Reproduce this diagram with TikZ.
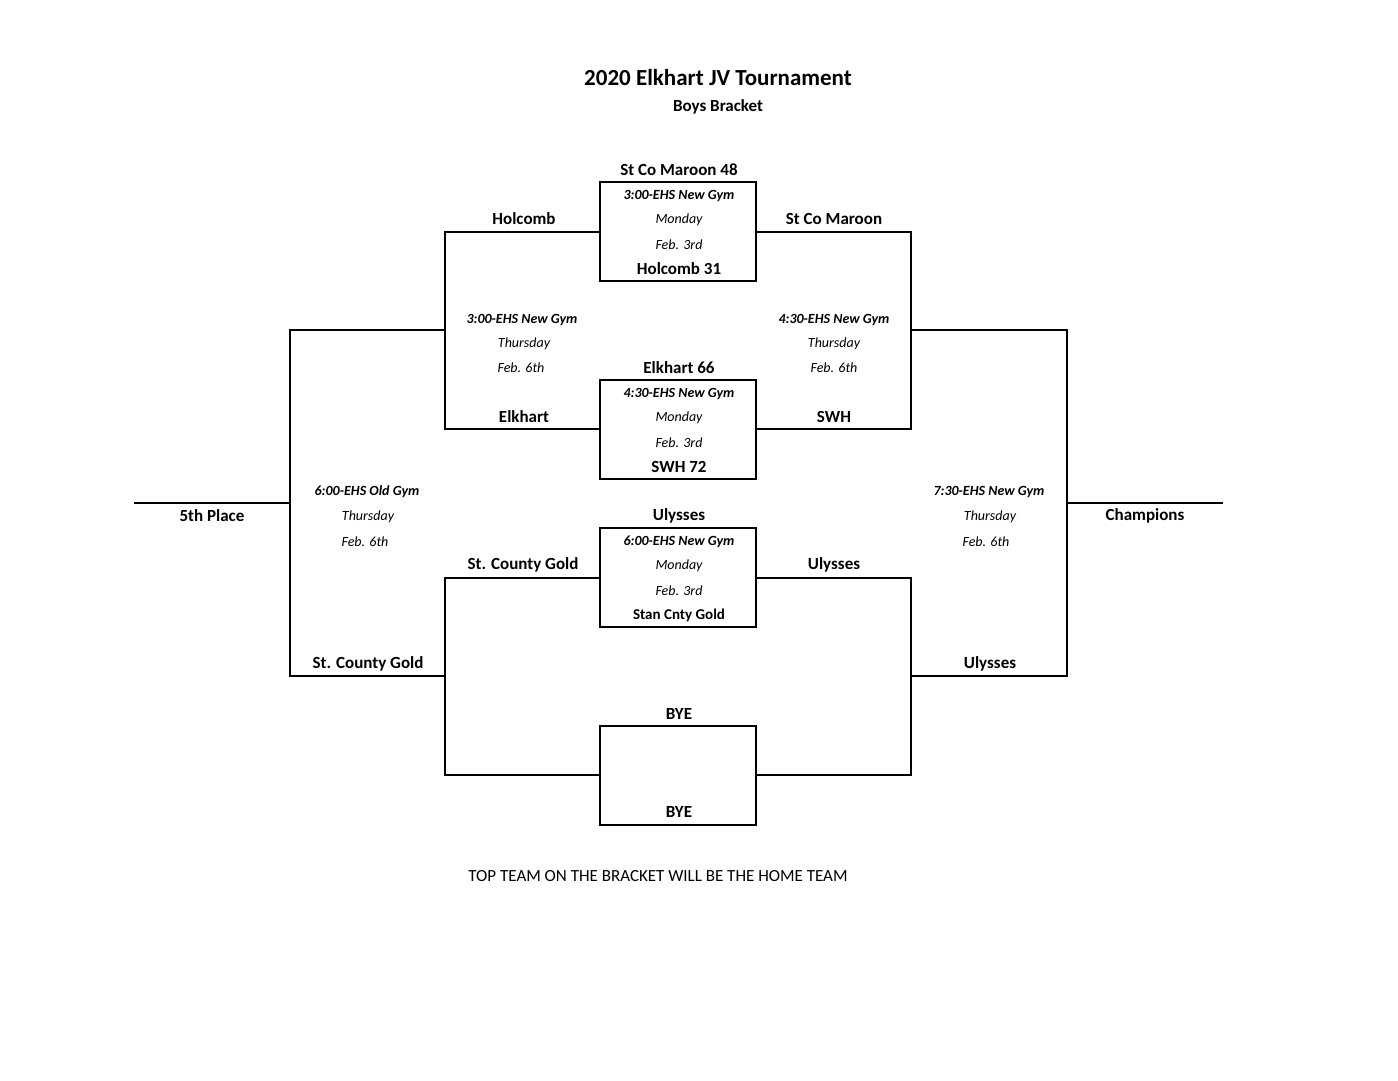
\documentclass[tikz,border=0pt]{standalone}
\usepackage{fontspec}
\setmainfont{Carlito}
\usetikzlibrary{positioning}
\tikzset{
  team/.style={font=\fontsize{17}{20}\selectfont\bfseries, inner sep=0pt},
  sched/.style={font=\fontsize{14}{16}\selectfont\itshape, inner sep=0pt},
  schedb/.style={font=\fontsize{14}{16}\selectfont\bfseries\itshape, inner sep=0pt},
  line/.style={line width=1.3pt},
}
\begin{document}
\begin{tikzpicture}[x=1pt,y=-1pt]
    \useasboundingbox (0,0) rectangle (1398,1080);
    % Title
    \node[font=\fontsize{23}{26}\selectfont\bfseries] (title) at (718,78) {2020 Elkhart JV Tournament};
    \node[font=\fontsize{17}{20}\selectfont\bfseries] (sub) at (718,107) {Boys Bracket};

    % Game boxes
    \foreach \y/\n in {182/g1,380/g2,528/g3,726/g4}
        \draw[line] (600,\y) rectangle (756,\y+99);

    % Round 1 brackets
    \foreach \a/\b in {232/429,578/775} {
        \draw[line] (600,\a) -- (445,\a) -- (445,\b) -- (600,\b);
        \draw[line] (756,\a) -- (911,\a) -- (911,\b) -- (756,\b);
    }
    % Round 2 brackets
    \draw[line] (445,330) -- (290,330) -- (290,676) -- (445,676);
    \draw[line] (911,330) -- (1067,330) -- (1067,676) -- (911,676);
    \draw[line] (290,503) -- (134,503);
    \draw[line] (1067,503) -- (1223,503);

    % Game 1
    \node[team] (g1top) at (679,170) {St Co Maroon 48};
    \node[schedb] (g1t) at (679,196) {3:00-EHS New Gym};
    \node[sched] (g1d) at (679,220) {Monday};
    \node[sched] (g1f) at (679,245) {Feb. 3rd};
    \node[team] (g1bot) at (679,269) {Holcomb 31};

    % Game 2
    \node[team] (g2top) at (679,368) {Elkhart 66};
    \node[schedb] (g2t) at (679,394) {4:30-EHS New Gym};
    \node[sched] (g2d) at (679,418) {Monday};
    \node[sched] (g2f) at (679,443) {Feb. 3rd};
    \node[team] (g2bot) at (679,467) {SWH 72};

    % Game 3
    \node[team] (g3top) at (679,516) {Ulysses};
    \node[schedb] (g3t) at (679,542) {6:00-EHS New Gym};
    \node[sched] (g3d) at (679,566) {Monday};
    \node[sched] (g3f) at (679,591) {Feb. 3rd};
    \node[team, font=\fontsize{15}{18}\selectfont\bfseries] (g3bot) at (679,615) {Stan Cnty Gold};

    % Game 4
    \node[team] (g4top) at (679,714) {BYE};
    \node[team] (g4bot) at (679,812) {BYE};

    % Second round teams
    \node[team] (l1) at (524,219) {Holcomb};
    \node[team] (r1) at (834,219) {St Co Maroon};
    \node[team] (l2) at (524,417) {Elkhart};
    \node[team] (r2) at (834,417) {SWH};
    \node[team] (l3) at (523,565) {St. County Gold};
    \node[team] (r3) at (834,565) {Ulysses};
    \node[schedb] (lt) at (522,320) {3:00-EHS New Gym};
    \node[sched] (ld) at (524,344) {Thursday};
    \node[sched] (lf) at (521,368) {Feb. 6th};
    \node[schedb] (rt) at (834,320) {4:30-EHS New Gym};
    \node[sched] (rd) at (834,344) {Thursday};
    \node[sched] (rf) at (834,368) {Feb. 6th};

    % Third round
    \node[team] (l4) at (368,664) {St. County Gold};
    \node[team] (r4) at (990,664) {Ulysses};
    \node[schedb] (ot) at (367,492) {6:00-EHS Old Gym};
    \node[sched] (od) at (368,517) {Thursday};
    \node[sched] (of) at (365,542) {Feb. 6th};
    \node[schedb] (ct) at (989,492) {7:30-EHS New Gym};
    \node[sched] (cd) at (990,517) {Thursday};
    \node[sched] (cf) at (986,542) {Feb. 6th};
    \node[team] (fifth) at (212,516) {5th Place};
    \node[team] (champ) at (1145,516) {Champions};

    \node[font=\fontsize{17}{20}\selectfont] (note) at (658,876) {TOP TEAM ON THE BRACKET WILL BE THE HOME TEAM};
\end{tikzpicture}
\end{document}
